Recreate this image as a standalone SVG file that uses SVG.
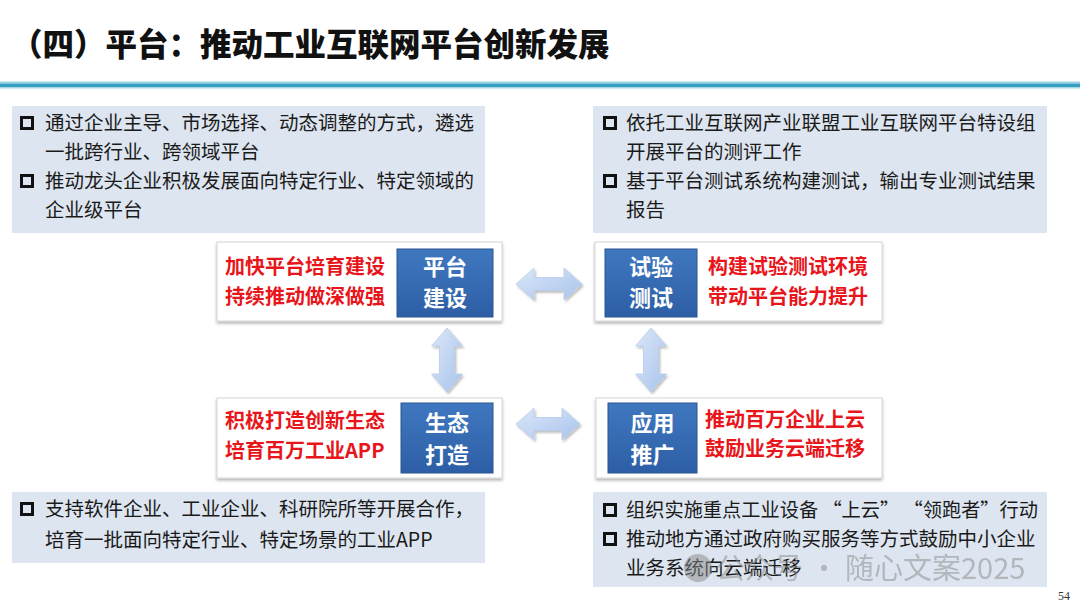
<svg xmlns="http://www.w3.org/2000/svg" width="1080" height="608" viewBox="0 0 1080 608">
<defs>
<style>
.t{font-family:"Noto Sans CJK SC","Liberation Sans",sans-serif;}
.body{font-size:19.5px;fill:#1a1a1a;}
.red{font-size:20px;font-weight:700;fill:#e8151b;}
.wt{font-size:22px;font-weight:700;fill:#ffffff;text-anchor:middle;}
.tbox{fill:#dde5f0;}
.node{fill:#ffffff;stroke:#d6d6d6;stroke-width:1;filter:url(#sh);}
.blue{fill:url(#bg);stroke:#2b5592;stroke-width:1;}
.bul{fill:none;stroke:#111;stroke-width:3;}
.arr{fill:url(#ag);stroke:#b7cbe8;stroke-width:0.8;filter:url(#ash);}
</style>
<linearGradient id="bg" x1="0" y1="0" x2="0" y2="1">
<stop offset="0" stop-color="#3f78c0"/>
<stop offset="1" stop-color="#2d5ea5"/>
</linearGradient>
<linearGradient id="ag" x1="0" y1="0" x2="1" y2="1">
<stop offset="0" stop-color="#dbe7f8"/>
<stop offset="1" stop-color="#a9c3ec"/>
</linearGradient>
<filter id="sh" x="-5%" y="-10%" width="110%" height="130%">
<feDropShadow dx="0" dy="2" stdDeviation="1.5" flood-color="#000" flood-opacity="0.3"/>
</filter>
<filter id="ash" x="-20%" y="-20%" width="140%" height="140%">
<feDropShadow dx="1.5" dy="2" stdDeviation="1.2" flood-color="#000" flood-opacity="0.25"/>
</filter>
</defs>
<rect width="1080" height="608" fill="#ffffff"/>

<g id="title">
<text class="t" x="11" y="56" font-size="31.5" font-weight="900" fill="#111">（四）平台：推动工业互联网平台创新发展</text>
<rect x="0" y="81.5" width="1080" height="2" fill="#9fd4e4"/>
<rect x="0" y="83.5" width="1080" height="3.5" fill="#36a0c2"/>
<rect x="0" y="87" width="1080" height="1.5" fill="#a8d9e8"/>
</g>

<g id="box-top-left">
<rect class="tbox" x="12" y="106" width="473" height="127"/>
<rect class="bul" x="21.5" y="117.5" width="11" height="11"/>
<text class="t body" x="45" y="130">通过企业主导、市场选择、动态调整的方式，遴选</text>
<text class="t body" x="45" y="159">一批跨行业、跨领域平台</text>
<rect class="bul" x="21.5" y="175.5" width="11" height="11"/>
<text class="t body" x="45" y="188">推动龙头企业积极发展面向特定行业、特定领域的</text>
<text class="t body" x="45" y="217">企业级平台</text>
</g>

<g id="box-top-right">
<rect class="tbox" x="593" y="106" width="454" height="127"/>
<rect class="bul" x="604.5" y="117.5" width="11" height="11"/>
<text class="t body" x="626" y="130">依托工业互联网产业联盟工业互联网平台特设组</text>
<text class="t body" x="626" y="159">开展平台的测评工作</text>
<rect class="bul" x="604.5" y="175.5" width="11" height="11"/>
<text class="t body" x="626" y="188">基于平台测试系统构建测试，输出专业测试结果</text>
<text class="t body" x="626" y="217">报告</text>
</g>

<g id="node-platform">
<rect class="node" x="217" y="242" width="285" height="79"/>
<text class="t red" x="225" y="274">加快平台培育建设</text>
<text class="t red" x="225" y="304">持续推动做深做强</text>
<rect class="blue" x="397" y="249" width="96" height="68"/>
<text class="t wt" x="445" y="275">平台</text>
<text class="t wt" x="445" y="306">建设</text>
</g>

<g id="node-test">
<rect class="node" x="595" y="242" width="287" height="79"/>
<rect class="blue" x="605" y="249" width="92" height="68"/>
<text class="t wt" x="651" y="275">试验</text>
<text class="t wt" x="651" y="306">测试</text>
<text class="t red" x="708" y="274">构建试验测试环境</text>
<text class="t red" x="708" y="304">带动平台能力提升</text>
</g>

<g id="node-eco">
<rect class="node" x="217" y="398" width="285" height="80"/>
<text class="t red" x="225" y="428">积极打造创新生态</text>
<text class="t red" x="225" y="458">培育百万工业APP</text>
<rect class="blue" x="401" y="403" width="92" height="70"/>
<text class="t wt" x="447" y="431">生态</text>
<text class="t wt" x="447" y="463">打造</text>
</g>

<g id="node-app">
<rect class="node" x="596" y="398" width="286" height="80"/>
<rect class="blue" x="608" y="403" width="89" height="70"/>
<text class="t wt" x="652.5" y="431">应用</text>
<text class="t wt" x="652.5" y="463">推广</text>
<text class="t red" x="705" y="427">推动百万企业上云</text>
<text class="t red" x="705" y="456">鼓励业务云端迁移</text>
</g>

<g id="box-bottom-left">
<rect class="tbox" x="12" y="492" width="473" height="71"/>
<rect class="bul" x="21.5" y="503.5" width="11" height="11"/>
<text class="t body" x="45" y="516">支持软件企业、工业企业、科研院所等开展合作，</text>
<text class="t body" x="45" y="547">培育一批面向特定行业、特定场景的工业APP</text>
</g>

<g id="box-bottom-right">
<rect class="tbox" x="593" y="492" width="454" height="95"/>
<rect class="bul" x="604.5" y="504.5" width="11" height="11"/>
<text class="t body" x="626" y="517" textLength="412" lengthAdjust="spacingAndGlyphs">组织实施重点工业设备 “上云” “领跑者”行动</text>
<rect class="bul" x="604.5" y="533.5" width="11" height="11"/>
<text class="t body" x="626" y="546">推动地方通过政府购买服务等方式鼓励中小企业</text>
<text class="t body" x="626" y="575">业务系统向云端迁移</text>
</g>

<g id="connectors">
<path class="arr" d="M516,284 L534,268 L534,277.5 L564,277.5 L564,268 L582,284 L564,300 L564,290.5 L534,290.5 L534,300 Z"/>
<path class="arr" d="M516,424 L534,408 L534,417.5 L562,417.5 L562,408 L580,424 L562,440 L562,430.5 L534,430.5 L534,440 Z"/>
<path class="arr" d="M447,328 L462.5,346 L454.5,346 L454.5,374 L462.5,374 L447,392 L431.5,374 L439.5,374 L439.5,346 L431.5,346 Z"/>
<path class="arr" d="M651,328 L666.5,346 L658.5,346 L658.5,374 L666.5,374 L651,392 L635.5,374 L643.5,374 L643.5,346 L635.5,346 Z"/>
</g>

<g id="watermark" opacity="0.5">
<circle cx="698" cy="568" r="14" fill="#8a8a8a"/>
<text class="t" x="716" y="579" font-size="29" fill="#8a8a8a">公众号 · 随心文案2025</text>
</g>

<text x="1058" y="600" font-family="Liberation Serif, serif" font-size="12" fill="#333">54</text>
</svg>
